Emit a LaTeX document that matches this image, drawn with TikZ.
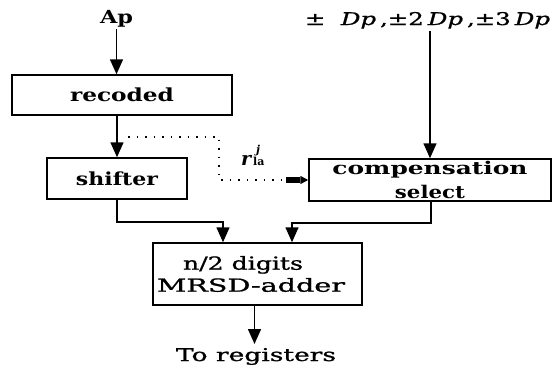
\documentclass[tikz,border=0pt]{standalone}
\usepackage{fontspec}
\setmainfont{DejaVu Serif}
\newfontfamily\medfont[FakeBold=1]{DejaVu Serif}
\usetikzlibrary{arrows.meta}
\newcommand{\W}[2]{\resizebox{#1pt}{\height}{#2}}
\tikzset{
  lab/.style={inner sep=2pt, font=\fontsize{17.5}{20}\selectfont},
  blab/.style={inner sep=2pt, font=\fontsize{18}{20}\selectfont\bfseries},
  box/.style={draw, line width=1.5pt, inner sep=0pt, align=center},
  arr/.style={line width=1.5pt, -{Triangle[length=15pt,width=13pt]}},
  dotarr/.style={line width=1.5pt, dash pattern=on 1.5pt off 7pt,
     -{Rectangle[length=14pt,width=6pt] Triangle[length=8pt,width=8pt]}}
}
\begin{document}
\begin{tikzpicture}[x=1pt,y=-1pt]
\useasboundingbox (0,0) rectangle (560,375);
\fill[white] (0,0) rectangle (560,375);
% labels
\node[blab, anchor=base] (ap) at (116.5,23.3) {\W{33}{Ap}};
\node[lab, anchor=base, font=\fontsize{17.5}{20}\medfont] (dp) at (427.5,25) {\W{245}{±\ \ \textit{Dp}\,,±2\,\textit{Dp}\,,±3\,\textit{Dp}}};
% boxes
\node[box, minimum width=220pt, minimum height=40pt, font=\fontsize{18}{20}\selectfont\bfseries] (rec) at (122,95) {\W{104}{recoded}};
\node[box, minimum width=140pt, minimum height=41pt, font=\fontsize{18}{20}\selectfont\bfseries] (shi) at (117,178.5) {\W{82}{shifter}};
\node[box, minimum width=242pt, minimum height=42pt, font=\fontsize{17.5}{24}\selectfont\bfseries] (comp) at (430,180) {\W{195}{compensation}\\\W{70}{select}};
\node[box, minimum width=209pt, minimum height=62pt, font=\fontsize{18}{22}\medfont] (add) at (257.5,274) {\W{120}{n/2 digits}\hspace*{29pt}\\\W{188}{MRSD-adder}\hspace*{13pt}};
\node[lab, anchor=base, font=\fontsize{17.5}{20}\medfont] (reg) at (256,361) {\W{160}{To registers}};
\node[inner sep=0pt, anchor=base west] (rla) at (241,165) {{\fontsize{19}{19}\selectfont\bfseries\itshape r}\hspace{2pt}{\fontsize{11}{11}\selectfont\bfseries\makebox[0pt][l]{\hspace{3pt}\raisebox{12pt}{\itshape j}}la}};
% connectors
\draw[arr] (ap.south) -- (ap.south |- rec.north);
\draw[arr] (comp.north |- dp.south) -- (comp.north);
\draw[arr] (shi.north |- rec.south) -- (shi.north);
\coordinate (d0) at (128,137);
\coordinate (d1) at (219,180);
\draw[dotarr] (d0) -| (d1) -- (comp.west);
\draw[arr] (shi.south) -- ++(0,22) -| ([xshift=-34.5pt]add.north);
\draw[arr] ([xshift=1pt]comp.south) -- ++(0,21) -| ([xshift=34.5pt]add.north);
\draw[arr] ([xshift=-3pt]add.south) -- ([xshift=-3pt]add.south |- 0,344);
\end{tikzpicture}
\end{document}
